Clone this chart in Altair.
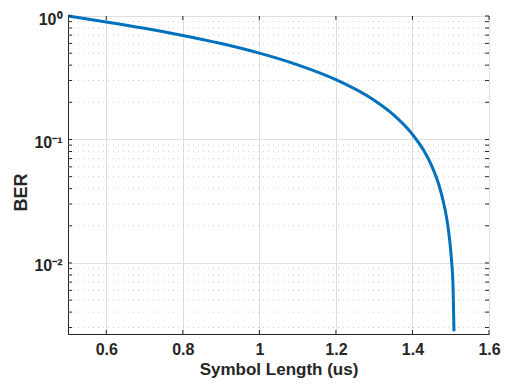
import altair as alt
import pandas as pd

# ---- data ----
symbol_len = [0.50, 0.60, 0.70, 0.80, 0.90, 1.00, 1.10, 1.20, 1.30, 1.35,
              1.40, 1.43, 1.45, 1.47, 1.48, 1.49, 1.495, 1.50, 1.503, 1.506, 1.5085]
ber = [1.0, 0.895, 0.795, 0.695, 0.598, 0.50, 0.402, 0.305, 0.208, 0.159,
       0.110, 0.081, 0.0615, 0.042, 0.032, 0.0225, 0.0175, 0.0126, 0.0097, 0.0066, 0.0028]

x_ticks = [0.6, 0.8, 1.0, 1.2, 1.4, 1.6]
y_major = [1.0, 0.1, 0.01]
y_major_labels = ["10⁰", "10⁻¹", "10⁻²"]
y_minor = [0.9, 0.8, 0.7, 0.6, 0.5, 0.4, 0.3, 0.2,
           0.09, 0.08, 0.07, 0.06, 0.05, 0.04, 0.03, 0.02,
           0.009, 0.008, 0.007, 0.006, 0.005, 0.004, 0.003]
x_title = "Symbol Length (us)"
y_title = "BER"

W, H = 421, 318
DARK = "#262626"
TL = 4

curve = pd.DataFrame({"x": symbol_len, "y": ber})
minor_df = pd.DataFrame({"y": y_minor})
yt_df = pd.DataFrame({"y": y_major + y_minor})
xt_df = pd.DataFrame({"x": x_ticks})

label_expr = " : ".join(
    f"abs(log(datum.value)/log(10) - ({v_exp})) < 0.01 ? '{lab}'"
    for v_exp, lab in zip([0, -1, -2], y_major_labels)
) + " : ''"

xs = alt.Scale(domain=[0.5, 1.6], nice=False, zero=False)
ys = alt.Scale(type="log", domain=[0.00266, 1.0], nice=False)

xaxis = alt.Axis(values=x_ticks, format=".1~f", grid=True, gridColor="#dedede",
                 gridWidth=1, ticks=False, labelPadding=7, labelFontSize=16,
                 titleFontSize=17, titleY=40, titleBaseline="alphabetic",
                 labelFlush=False)
yaxis = alt.Axis(values=y_major, labelExpr=label_expr, grid=True, gridColor="#dedede",
                 gridWidth=1, ticks=False, labelPadding=6, labelFontSize=16,
                 labelOffset=3, titleFontSize=18, titleAngle=270,
                 titleAlign="center", titleBaseline="middle", titleX=-47, titleY=176)


def X(f):
    return alt.X(f"{f}:Q", scale=xs, axis=xaxis, title=x_title)


def Y(f):
    return alt.Y(f"{f}:Q", scale=ys, axis=yaxis, title=y_title)


minor_grid = alt.Chart(minor_df).mark_rule(
    color="#cfcfcf", strokeWidth=1, strokeDash=[1, 4]
).encode(y=Y("y"))

line = alt.Chart(curve).mark_line(
    color="#0072BD", strokeWidth=3, interpolate="monotone"
).encode(x=X("x"), y=Y("y"))

left_ticks = alt.Chart(yt_df).mark_rule(color=DARK, strokeWidth=1).encode(
    y=Y("y"), x=alt.value(0), x2=alt.value(TL))
right_ticks = alt.Chart(yt_df).mark_rule(color=DARK, strokeWidth=1).encode(
    y=Y("y"), x=alt.value(W - TL), x2=alt.value(W))
bottom_ticks = alt.Chart(xt_df).mark_rule(color=DARK, strokeWidth=1).encode(
    x=X("x"), y=alt.value(H - TL), y2=alt.value(H))
top_ticks = alt.Chart(xt_df).mark_rule(color=DARK, strokeWidth=1).encode(
    x=X("x"), y=alt.value(0), y2=alt.value(TL))

chart = alt.layer(
    minor_grid, line, left_ticks, right_ticks, bottom_ticks, top_ticks
).properties(
    width=W, height=H,
    autosize=alt.AutoSizeParams(type="none"),
    padding={"left": 60, "top": 8, "right": 12, "bottom": 45},
).configure_view(
    stroke=DARK, strokeWidth=1
).configure_axis(
    labelFont="Liberation Sans", labelFontWeight="bold", labelColor=DARK,
    titleFont="Liberation Sans", titleFontWeight="bold", titleColor=DARK,
    domainColor=DARK, domainWidth=1
)

chart.save("out.html", embed_options={"renderer": "svg", "actions": False})
